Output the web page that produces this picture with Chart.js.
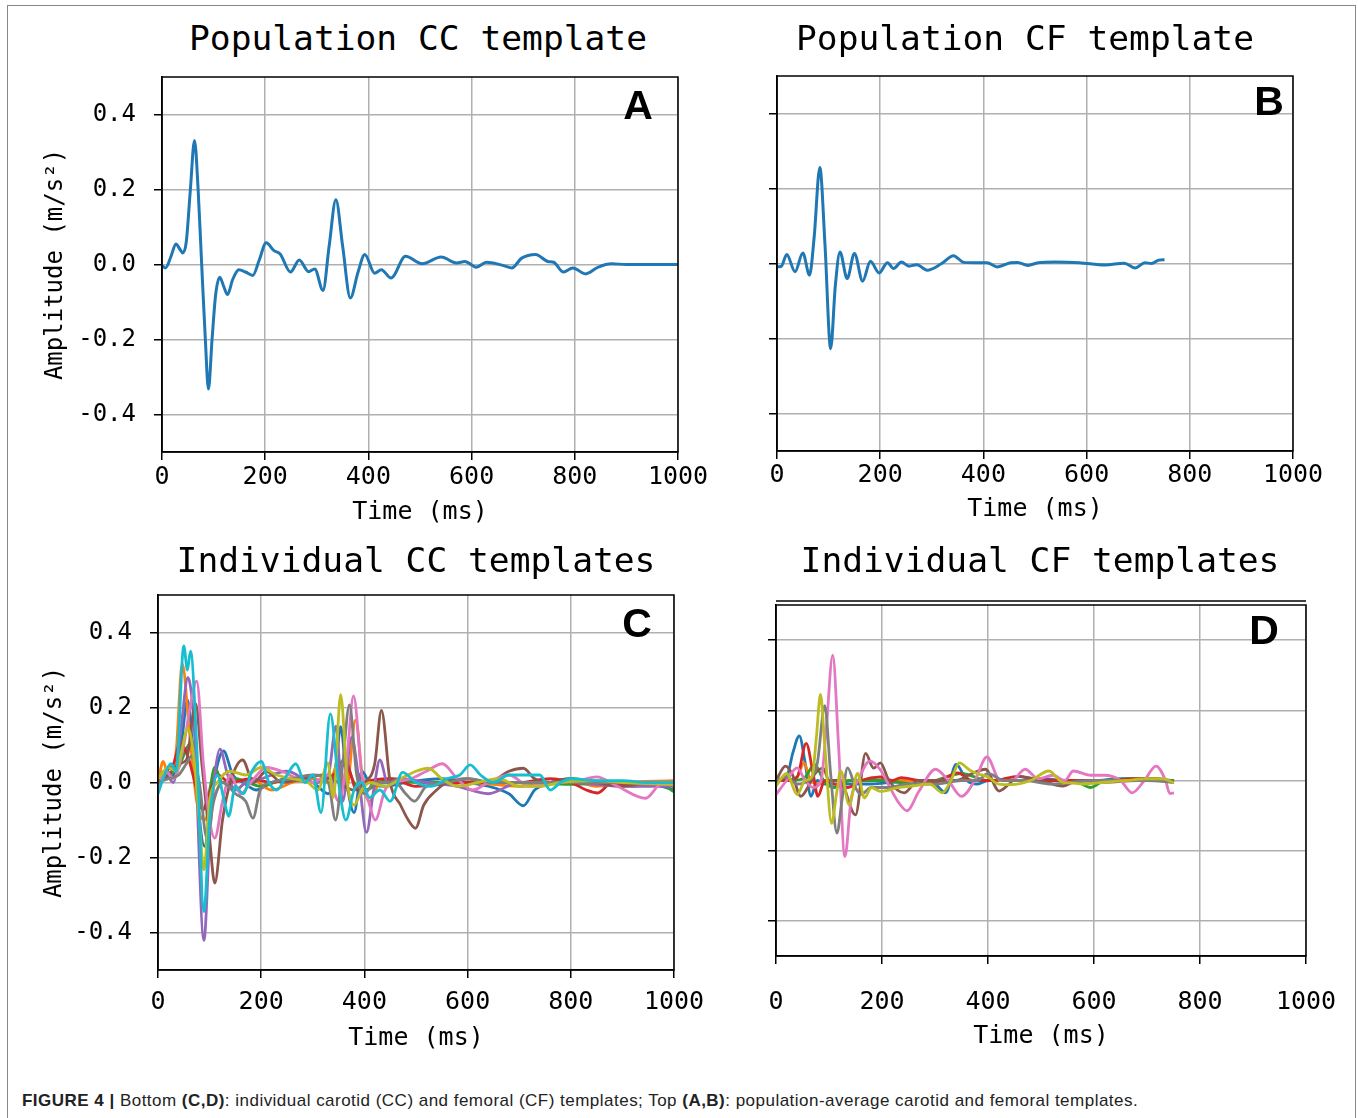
<!DOCTYPE html>
<html>
<head>
<meta charset="utf-8">
<script src="https://cdn.jsdelivr.net/npm/chart.js@4.4.1/dist/chart.umd.min.js"></script>
<style>
  body { margin: 0; background: #fff; width: 1358px; height: 1118px; overflow: hidden; position: relative; }
  canvas { position: absolute; }
  .frame { position: absolute; left: 7px; top: 5px; width: 1347px; height: 1140px; border: 1.5px solid #888; }
  .ttl { position: absolute; width: 600px; text-align: center; font: 34.6px "DejaVu Sans Mono", monospace; line-height: 1; color: #000; white-space: pre; }
  .lab { position: absolute; width: 100px; text-align: center; font: bold 41px "Liberation Sans", Arial, sans-serif; line-height: 1; color: #000; }
  .cap { position: absolute; left: 22px; top: 1092px; font: 17px "Liberation Sans", Arial, sans-serif; letter-spacing: 0.48px; line-height: 1; color: #222; white-space: pre; }
</style>
</head>
<body>
<div class="frame"></div>

<canvas id="chartA"></canvas>
<canvas id="chartB"></canvas>
<canvas id="chartC"></canvas>
<canvas id="chartD"></canvas>

<div class="ttl" style="left:118px; top:21px;">Population CC template</div>
<div class="ttl" style="left:725px; top:21px;">Population CF template</div>
<div class="ttl" style="left:116px; top:543px;">Individual CC templates</div>
<div class="ttl" style="left:740px; top:543px;">Individual CF templates</div>

<div class="lab" style="left:588px; top:85px;">A</div>
<div class="lab" style="left:1219px; top:81px;">B</div>
<div class="lab" style="left:587px; top:603px;">C</div>
<div class="lab" style="left:1214px; top:610px;">D</div>

<div class="cap"><b>FIGURE 4 |</b> Bottom <b>(C,D)</b>: individual carotid (CC) and femoral (CF) templates; Top <b>(A,B)</b>: population-average carotid and femoral templates.</div>

<script>
// axis ticks
const timeTicks = [0, 200, 400, 600, 800, 1000];
const ampTicks = [-0.4, -0.2, 0.0, 0.2, 0.4];

// population average templates [time ms, amplitude m/s2]
const popCC = [[0,-0.003],[7,-0.009],[17,0.02],[27,0.055],[35,0.04],[40,0.031],[47,0.06],[55,0.2],[63,0.331],[70,0.2],[77,-0.003],[84,-0.2],[90,-0.332],[97,-0.2],[104,-0.08],[112,-0.034],[120,-0.06],[127,-0.08],[137,-0.04],[149,-0.014],[162,-0.02],[176,-0.029],[188,0.01],[202,0.058],[217,0.037],[229,0.028],[249,-0.02],[266,0.012],[284,-0.019],[296,-0.012],[312,-0.069],[324,0.05],[337,0.173],[350,0.05],[365,-0.089],[380,-0.02],[393,0.027],[412,-0.023],[425,-0.014],[444,-0.036],[472,0.022],[504,0.002],[541,0.02],[571,0.004],[587,0.008],[609,-0.007],[629,0.006],[657,-0.001],[678,-0.009],[697,0.017],[724,0.027],[748,0.008],[759,0.006],[778,-0.02],[796,-0.009],[821,-0.025],[844,-0.008],[860,0.0],[871,0.002],[900,0.0],[1000,0.0]];
const popCF = [[0,-0.009],[8,-0.008],[19,0.024],[35,-0.022],[50,0.028],[63,-0.031],[72,0.07],[83,0.256],[93,0.05],[104,-0.227],[113,-0.06],[122,0.031],[136,-0.04],[150,0.027],[166,-0.047],[181,0.006],[198,-0.025],[214,0.002],[226,-0.013],[241,0.004],[256,-0.007],[271,-0.003],[291,-0.018],[319,0.0],[342,0.021],[362,0.003],[386,0.002],[407,0.002],[427,-0.009],[453,0.002],[466,0.003],[486,-0.005],[506,0.002],[539,0.004],[586,0.002],[636,-0.004],[673,0.001],[694,-0.012],[713,0.002],[726,0.0],[740,0.009],[751,0.01]];

// individual carotid templates
const ccBlue = [[0,0.02],[15,0.03],[30,0.02],[45,0.1],[57,0.22],[70,0.05],[90,-0.17],[105,-0.02],[127,0.084],[145,0.02],[165,0.0],[190,-0.02],[220,0.0],[260,0.01],[300,0.0],[330,-0.03],[345,0.05],[354,0.149],[366,0.0],[380,-0.08],[395,0.03],[410,0.0],[440,-0.01],[480,0.0],[550,0.01],[600,0.0],[640,-0.01],[680,-0.03],[708,-0.062],[730,-0.02],[760,0.0],[800,0.01],[850,0.0],[900,0.0],[960,-0.005],[1000,-0.02]];
const ccOrange = [[0,0.0],[10,0.056],[20,0.02],[35,0.08],[47,0.316],[60,0.15],[75,-0.05],[90,-0.1],[105,-0.05],[125,0.0],[150,-0.02],[180,0.01],[220,-0.02],[260,0.0],[300,0.01],[330,0.0],[350,0.05],[365,-0.02],[383,0.167],[397,0.0],[410,-0.05],[430,0.0],[470,0.01],[520,0.0],[600,0.0],[700,-0.01],[800,0.005],[850,-0.01],[900,0.0],[1000,0.005]];
const ccGreen = [[0,0.0],[20,0.02],[40,0.04],[55,0.09],[67,0.11],[78,-0.02],[87,-0.073],[100,-0.02],[110,0.04],[125,0.0],[150,0.01],[200,-0.01],[250,0.01],[300,0.0],[340,0.02],[360,0.06],[380,0.0],[400,-0.02],[450,0.01],[500,0.0],[600,0.0],[700,0.0],[800,-0.005],[900,0.0],[970,0.0],[1000,-0.025]];
const ccRed = [[0,0.01],[15,0.03],[30,0.05],[43,0.105],[60,0.06],[75,-0.02],[87,-0.073],[100,-0.03],[115,0.02],[140,0.0],[180,0.01],[220,0.0],[260,0.01],[300,0.0],[340,0.02],[365,0.05],[385,-0.02],[400,0.0],[450,0.01],[500,-0.01],[600,0.0],[700,0.0],[760,0.01],[800,0.0],[830,-0.02],[852,-0.028],[880,0.0],[920,-0.01],[960,0.0],[1000,-0.01]];
const ccPurple = [[0,-0.02],[15,0.02],[30,0.0],[45,0.15],[58,0.28],[70,0.15],[89,-0.421],[100,-0.15],[110,0.02],[120,0.089],[135,0.02],[150,-0.02],[170,0.0],[200,0.01],[250,0.03],[300,0.0],[330,0.02],[345,0.15],[358,-0.05],[375,0.12],[390,0.0],[404,-0.133],[418,-0.02],[430,0.06],[445,0.0],[470,0.01],[520,0.0],[580,-0.01],[640,-0.03],[700,0.0],[800,0.0],[900,-0.01],[1000,-0.01]];
const ccBrown = [[0,0.0],[20,0.02],[40,0.05],[55,0.06],[73,0.21],[85,0.05],[100,-0.15],[110,-0.268],[125,-0.1],[140,0.0],[164,0.06],[185,0.0],[210,0.03],[240,0.0],[280,0.01],[320,0.02],[350,0.0],[380,-0.02],[400,0.0],[420,0.05],[433,0.192],[450,0.0],[470,-0.06],[485,-0.1],[499,-0.122],[515,-0.06],[540,-0.02],[560,0.0],[600,0.01],[640,0.0],[680,0.03],[708,0.038],[730,0.01],[760,0.0],[800,0.01],[850,0.0],[900,-0.01],[950,0.0],[1000,0.0]];
const ccPink = [[0,-0.02],[15,0.03],[30,0.01],[50,0.1],[62,0.2],[75,0.27],[88,0.05],[100,-0.1],[110,-0.148],[125,-0.05],[140,0.02],[160,-0.03],[180,0.0],[210,0.04],[240,0.03],[270,0.01],[300,0.0],[330,0.02],[350,-0.05],[365,0.05],[379,0.231],[395,0.02],[410,-0.06],[421,-0.1],[440,-0.02],[460,0.0],[490,0.01],[520,0.03],[551,0.05],[580,0.01],[610,-0.02],[640,0.0],[680,0.02],[720,-0.01],[760,0.0],[800,0.0],[850,0.015],[890,-0.01],[945,-0.042],[975,-0.005],[1000,-0.005]];
const ccGray = [[0,0.0],[20,0.01],[40,0.02],[55,0.05],[65,0.07],[80,0.0],[95,-0.15],[108,-0.05],[125,0.0],[150,-0.03],[170,-0.05],[184,-0.095],[198,-0.02],[220,0.0],[260,0.01],[300,0.02],[330,0.0],[344,-0.1],[358,0.05],[371,0.207],[385,0.02],[400,-0.03],[420,0.0],[460,0.0],[480,-0.03],[497,-0.05],[520,-0.01],[560,0.0],[600,0.01],[650,0.0],[700,0.0],[800,0.0],[900,0.0],[1000,0.0]];
const ccOlive = [[0,0.01],[20,0.04],[35,0.03],[45,0.08],[58,0.145],[70,0.06],[80,-0.1],[89,-0.233],[100,-0.05],[115,0.0],[140,0.03],[170,0.02],[200,0.04],[230,0.02],[260,0.01],[290,0.0],[310,-0.02],[329,0.052],[340,-0.04],[354,0.234],[367,0.0],[380,-0.06],[395,-0.02],[410,0.0],[440,-0.01],[470,0.01],[500,0.03],[524,0.038],[550,0.01],[580,-0.01],[620,0.0],[660,0.01],[700,-0.01],[740,-0.01],[780,0.0],[850,0.005],[900,0.0],[1000,-0.005]];
const ccCyan = [[0,-0.03],[10,0.01],[25,0.05],[35,0.03],[50,0.364],[57,0.3],[63,0.35],[75,0.1],[89,-0.344],[100,-0.1],[115,0.02],[130,-0.06],[137,-0.09],[150,-0.01],[165,-0.03],[182,0.03],[200,0.056],[215,0.0],[230,-0.02],[250,0.02],[267,0.05],[285,0.0],[300,0.02],[316,-0.08],[334,0.183],[350,0.0],[364,-0.1],[380,-0.02],[395,0.0],[410,-0.04],[430,-0.02],[450,-0.05],[474,0.027],[500,0.0],[530,-0.01],[560,0.01],[585,0.02],[605,0.047],[625,0.02],[650,0.0],[680,0.02],[710,0.02],[740,0.02],[760,-0.02],[780,0.0],[800,0.01],[850,0.005],[900,0.005],[950,0.0],[1000,0.0]];

// individual femoral templates
const cfBlue = [[0,0.0],[20,0.01],[32,0.08],[44,0.127],[55,0.05],[66,-0.045],[78,0.0],[92,-0.01],[110,-0.01],[140,-0.01],[180,-0.01],[220,-0.005],[260,0.0],[300,-0.01],[320,-0.035],[340,0.046],[360,0.0],[380,-0.01],[400,0.0],[450,0.0],[500,0.005],[550,0.0],[600,0.0],[650,0.005],[700,0.005],[751,0.0]];
const cfOrange = [[0,0.0],[20,0.0],[40,0.01],[53,0.05],[65,0.0],[80,-0.01],[100,0.0],[150,0.0],[200,0.0],[300,0.0],[400,0.0],[500,0.0],[600,0.0],[700,0.0],[751,0.0]];
const cfGreen = [[0,0.0],[30,0.0],[55,0.01],[73,0.046],[90,0.0],[110,-0.02],[140,0.0],[200,0.0],[260,-0.01],[300,0.0],[350,0.02],[400,0.0],[500,0.0],[560,0.0],[594,-0.02],[620,0.0],[700,0.005],[751,0.0]];
const cfRed = [[0,0.0],[20,0.0],[40,0.01],[57,0.106],[70,0.02],[79,-0.045],[92,0.0],[110,-0.01],[135,-0.02],[160,0.0],[197,0.01],[220,0.0],[236,0.008],[270,0.0],[300,-0.005],[343,0.022],[370,0.0],[410,0.0],[457,0.012],[500,0.0],[560,0.0],[620,0.0],[680,0.005],[720,0.005],[751,-0.005]];
const cfBrown = [[0,0.0],[18,0.041],[30,0.02],[47,-0.045],[60,-0.02],[73,0.018],[89,0.035],[100,0.0],[120,0.0],[150,-0.098],[169,0.077],[184,0.035],[197,0.05],[213,0.0],[242,-0.035],[268,0.0],[300,0.0],[340,0.0],[370,0.02],[395,0.032],[421,-0.03],[440,-0.01],[457,0.012],[500,0.0],[541,-0.016],[570,0.0],[620,-0.005],[680,0.0],[720,0.0],[751,-0.005]];
const cfPink = [[0,-0.04],[20,0.0],[40,0.036],[55,0.0],[70,-0.02],[85,0.0],[95,0.15],[107,0.357],[118,0.1],[130,-0.217],[142,-0.05],[155,0.0],[177,0.055],[197,0.03],[215,-0.02],[230,-0.06],[247,-0.086],[270,-0.03],[301,0.032],[325,0.0],[350,-0.045],[375,0.0],[398,0.067],[423,0.0],[445,0.0],[470,0.032],[495,0.005],[522,0.015],[545,0.0],[561,0.027],[594,0.015],[620,0.015],[650,0.0],[672,-0.035],[695,0.0],[717,0.041],[735,0.0],[743,-0.037],[751,-0.035]];
const cfGray = [[0,0.0],[20,0.01],[40,-0.01],[60,0.0],[78,0.05],[92,0.213],[103,0.02],[115,-0.15],[125,-0.05],[135,0.036],[150,-0.02],[160,-0.04],[180,-0.02],[210,-0.02],[250,-0.01],[300,-0.01],[350,0.0],[380,0.0],[400,0.02],[430,0.0],[470,0.0],[520,-0.01],[600,0.0],[650,0.0],[700,0.0],[751,-0.005]];
const cfOlive = [[0,-0.016],[20,0.02],[40,-0.04],[55,0.0],[68,0.01],[76,0.12],[84,0.245],[92,0.1],[105,-0.122],[114,-0.04],[122,0.027],[138,-0.069],[154,0.02],[167,-0.05],[180,-0.02],[197,-0.031],[230,-0.02],[260,-0.015],[290,-0.01],[314,-0.035],[330,0.0],[346,0.05],[365,0.03],[379,0.02],[400,0.01],[420,-0.01],[444,-0.012],[480,0.0],[515,0.027],[540,-0.005],[555,-0.007],[580,-0.01],[620,-0.005],[660,0.0],[700,0.005],[730,0.005],[751,-0.007]];

const ccSeries = [ccBlue, ccOrange, ccGreen, ccRed, ccPurple, ccBrown, ccPink, ccGray, ccOlive, ccCyan];
const ccColors = ["#1f77b4", "#ff7f0e", "#2ca02c", "#d62728", "#9467bd", "#8c564b", "#e377c2", "#7f7f7f", "#bcbd22", "#17becf"];
const cfSeries = [cfBlue, cfOrange, cfGreen, cfRed, cfBrown, cfPink, cfGray, cfOlive];
const cfColors = ["#1f77b4", "#ff7f0e", "#2ca02c", "#d62728", "#8c564b", "#e377c2", "#7f7f7f", "#bcbd22"];

const monoFont = { family: "'DejaVu Sans Mono', monospace", size: 24 };
const monoFontX = { family: "'DejaVu Sans Mono', monospace", size: 25 };

// box round the plot area, like the matplotlib spines
const spines = {
  id: "spines",
  afterDatasetsDraw(chart, args, opts) {
    const a = chart.chartArea;
    const ctx = chart.ctx;
    ctx.save();
    ctx.strokeStyle = "#000";
    ctx.lineWidth = 1.5;
    ctx.strokeRect(a.left, a.top, a.right - a.left, a.bottom - a.top);
    if (opts.doubleTop) {
      ctx.beginPath();
      ctx.moveTo(a.left, a.top - 4);
      ctx.lineTo(a.right, a.top - 4);
      ctx.stroke();
    }
    ctx.restore();
  }
};

function makePanel(id, plot, series, colors, cfg) {
  const cv = document.getElementById(id);
  const left = plot.l - 142, top = plot.t - 17;
  const w = plot.r + 62 - left, h = plot.b + 90 - top;
  cv.width = w; cv.height = h;
  cv.style.left = left + "px"; cv.style.top = top + "px";
  const n = series.length;
  const datasets = series.map((s, i) => ({
    data: s.map(p => ({ x: p[0], y: p[1] })),
    borderColor: colors[i],
    borderWidth: cfg.lw,
    order: n - 1 - i
  }));
  new Chart(cv, {
    type: "line",
    data: { datasets },
    plugins: [spines],
    options: {
      responsive: false,
      animation: false,
      devicePixelRatio: 1,
      layout: { padding: { left: 0, top: 17, right: 62, bottom: 0 } },
      elements: { point: { radius: 0 }, line: { cubicInterpolationMode: "monotone" } },
      plugins: { legend: { display: false }, tooltip: { enabled: false }, spines: { doubleTop: !!cfg.doubleTop } },
      scales: {
        x: {
          type: "linear", min: 0, max: 1000,
          afterBuildTicks: s => { s.ticks = timeTicks.map(v => ({ value: v })); },
          afterFit: s => { s.height = 90; s.paddingLeft = 0; s.paddingRight = 0; },
          grid: { color: "#b0b0b0", lineWidth: 1.5, tickLength: 8, tickColor: "#000", tickWidth: 1.5 },
          border: { color: "#000", width: 1.5 },
          ticks: { font: monoFontX, color: "#000", padding: cfg.xPad, maxRotation: 0, autoSkip: false, callback: v => String(v) },
          title: { display: true, text: "Time (ms)", font: monoFontX, color: "#000", padding: { top: 0, bottom: plot.b + 90 - cfg.xTitleY - 15 } }
        },
        y: {
          type: "linear", min: -0.5, max: 0.5,
          afterBuildTicks: s => { s.ticks = ampTicks.map(v => ({ value: v })); },
          afterFit: s => { s.width = 142; s.paddingTop = 0; s.paddingBottom = 0; },
          grid: { color: "#b0b0b0", lineWidth: 1.5, tickLength: 8, tickColor: "#000", tickWidth: 1.5 },
          border: { color: "#000", width: 1.5 },
          ticks: { display: cfg.yLabels, font: monoFont, color: "#000", padding: 18, callback: v => v.toFixed(1) },
          title: { display: cfg.yLabels, text: "Amplitude (m/s²)", font: monoFont, color: "#000", padding: { top: cfg.yTitleX - left - 14.4, bottom: 0 } }
        }
      }
    }
  });
}

makePanel("chartA", { l: 162, r: 678, t: 77, b: 452 }, [popCC], ["#1f77b4"], { lw: 3, xPad: 2, xTitleY: 512, yLabels: true, yTitleX: 56 });
makePanel("chartB", { l: 777, r: 1293, t: 76, b: 451 }, [popCF], ["#1f77b4"], { lw: 3, xPad: 1, xTitleY: 509, yLabels: false, yTitleX: 0 });
makePanel("chartC", { l: 158, r: 674, t: 595, b: 970 }, ccSeries, ccColors, { lw: 2.8, xPad: 9, xTitleY: 1038, yLabels: true, yTitleX: 55 });
makePanel("chartD", { l: 776, r: 1306, t: 605, b: 956 }, cfSeries, cfColors, { lw: 2.8, xPad: 23, xTitleY: 1036, yLabels: false, yTitleX: 0, doubleTop: true });
</script>
</body>
</html>
